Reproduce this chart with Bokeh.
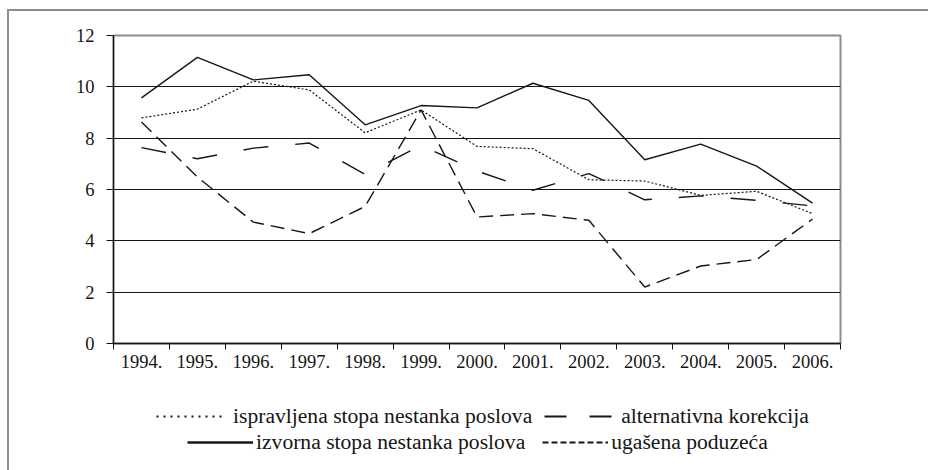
from bokeh.plotting import figure
from bokeh.layouts import column
from bokeh.models import Range1d, FixedTicker, Legend, LegendItem
from bokeh.embed import file_html
from bokeh.resources import INLINE

years = ["1994.", "1995.", "1996.", "1997.", "1998.", "1999.", "2000.",
         "2001.", "2002.", "2003.", "2004.", "2005.", "2006."]
izvorna = [9.57, 11.15, 10.27, 10.47, 8.52, 9.27, 9.18, 10.14, 9.47, 7.16, 7.77, 6.91, 5.47]
ispravljena = [8.79, 9.13, 10.22, 9.88, 8.21, 9.10, 7.68, 7.59, 6.38, 6.33, 5.77, 5.93, 5.06]
alternativna = [7.63, 7.20, 7.61, 7.81, 6.59, 7.72, 6.72, 5.97, 6.62, 5.60, 5.75, 5.58, 5.36]
ugasena = [8.63, 6.49, 4.73, 4.28, 5.34, 9.10, 4.93, 5.06, 4.80, 2.20, 3.02, 3.27, 4.85]
y_ticks = [0, 2, 4, 6, 8, 10, 12]
labels = {
    "ispravljena": "ispravljena stopa nestanka poslova",
    "alternativna": "alternativna korekcija",
    "izvorna": "izvorna stopa nestanka poslova",
    "ugasena": "ugašena poduzeća",
}

FONT = "Liberation Serif"
INK = "#161616"

n = len(years)
x = [i + 0.5 for i in range(n)]

p = figure(width=919, height=370, output_backend="svg", toolbar_location=None,
           x_range=Range1d(0, n), y_range=Range1d(0, 12),
           min_border_left=104, min_border_right=88, min_border_top=24,
           min_border_bottom=38, background_fill_color="white",
           border_fill_color="white")
p.outline_line_color = "#8c8c8c"
p.outline_line_width = 2

# axes
p.xaxis.ticker = FixedTicker(ticks=x, minor_ticks=list(range(n + 1)))
p.xaxis.major_label_overrides = {xi: lab for xi, lab in zip(x, years)}
p.xaxis.major_tick_in = 0
p.xaxis.major_tick_out = 0
p.xaxis.minor_tick_in = 0
p.xaxis.minor_tick_out = 6
p.xaxis.minor_tick_line_color = INK
p.xaxis.major_label_standoff = 5
p.yaxis.ticker = FixedTicker(ticks=y_ticks)
p.yaxis.major_tick_in = 0
p.yaxis.major_tick_out = 7
p.yaxis.minor_tick_line_color = None
p.yaxis.major_label_standoff = 12
for ax in (p.xaxis, p.yaxis):
    ax.axis_line_color = INK
    ax.axis_line_width = 1.3
    ax.major_label_text_font = FONT
    ax.major_label_text_font_size = "18.5px"
    ax.major_label_text_color = INK
p.xaxis.major_tick_line_color = None
p.yaxis.major_tick_line_color = INK
p.xgrid.visible = False
p.ygrid.grid_line_color = INK
p.ygrid.grid_line_width = 1.2

# series
p.line(x, izvorna, line_color=INK, line_width=1.4)
p.line(x, ispravljena, line_color=INK, line_width=1.2, line_dash="2 2")
p.line(x, alternativna, line_color=INK, line_width=1.4, line_dash="25 27")
p.line(x, ugasena, line_color=INK, line_width=1.4, line_dash="14 7")

# legend strip below the chart (frame is aligned with the chart's frame)
q = figure(width=919, height=89, output_backend="svg", toolbar_location=None,
           x_range=Range1d(0, 1), y_range=Range1d(0, 1),
           x_axis_location=None, y_axis_location=None,
           min_border_left=104, min_border_right=88, min_border_top=0,
           min_border_bottom=0, background_fill_color="white",
           border_fill_color="white")
q.outline_line_color = None
q.grid.visible = False

nan = [float("nan")]
s_isp = q.line(nan, nan, line_color=INK, line_width=2, line_dash="2 5")
s_alt = q.line(nan, nan, line_color=INK, line_width=2, line_dash="22 23")
s_izv = q.line(nan, nan, line_color=INK, line_width=2.5)
s_uga = q.line(nan, nan, line_color=INK, line_width=2, line_dash="6 3")

def make_legend(items, loc, gw, standoff, spacing):
    return Legend(items=items, orientation="horizontal", location=loc,
                  glyph_width=gw, glyph_height=26, label_height=26,
                  label_standoff=standoff, spacing=spacing, padding=0, margin=0,
                  border_line_color=None, background_fill_alpha=0,
                  label_text_font=FONT, label_text_font_size="21.6px",
                  label_text_color=INK)

leg1 = make_legend([LegendItem(label=labels["ispravljena"], renderers=[s_isp]),
                    LegendItem(label=labels["alternativna"], renderers=[s_alt])],
                   (43, 41), 68, 9, 12)
leg2 = make_legend([LegendItem(label=labels["izvorna"], renderers=[s_izv]),
                    LegendItem(label=labels["ugasena"], renderers=[s_uga])],
                   (74, 15), 66, 3, 17)
q.add_layout(leg1, "center")
q.add_layout(leg2, "center")

layout = column(p, q, spacing=0,
                styles={"margin-left": "7px", "margin-top": "9px",
                        "border-left": "2px solid #8c8c8c",
                        "border-top": "2px solid #8c8c8c"})

open("out.html", "w").write(file_html(layout, INLINE))
